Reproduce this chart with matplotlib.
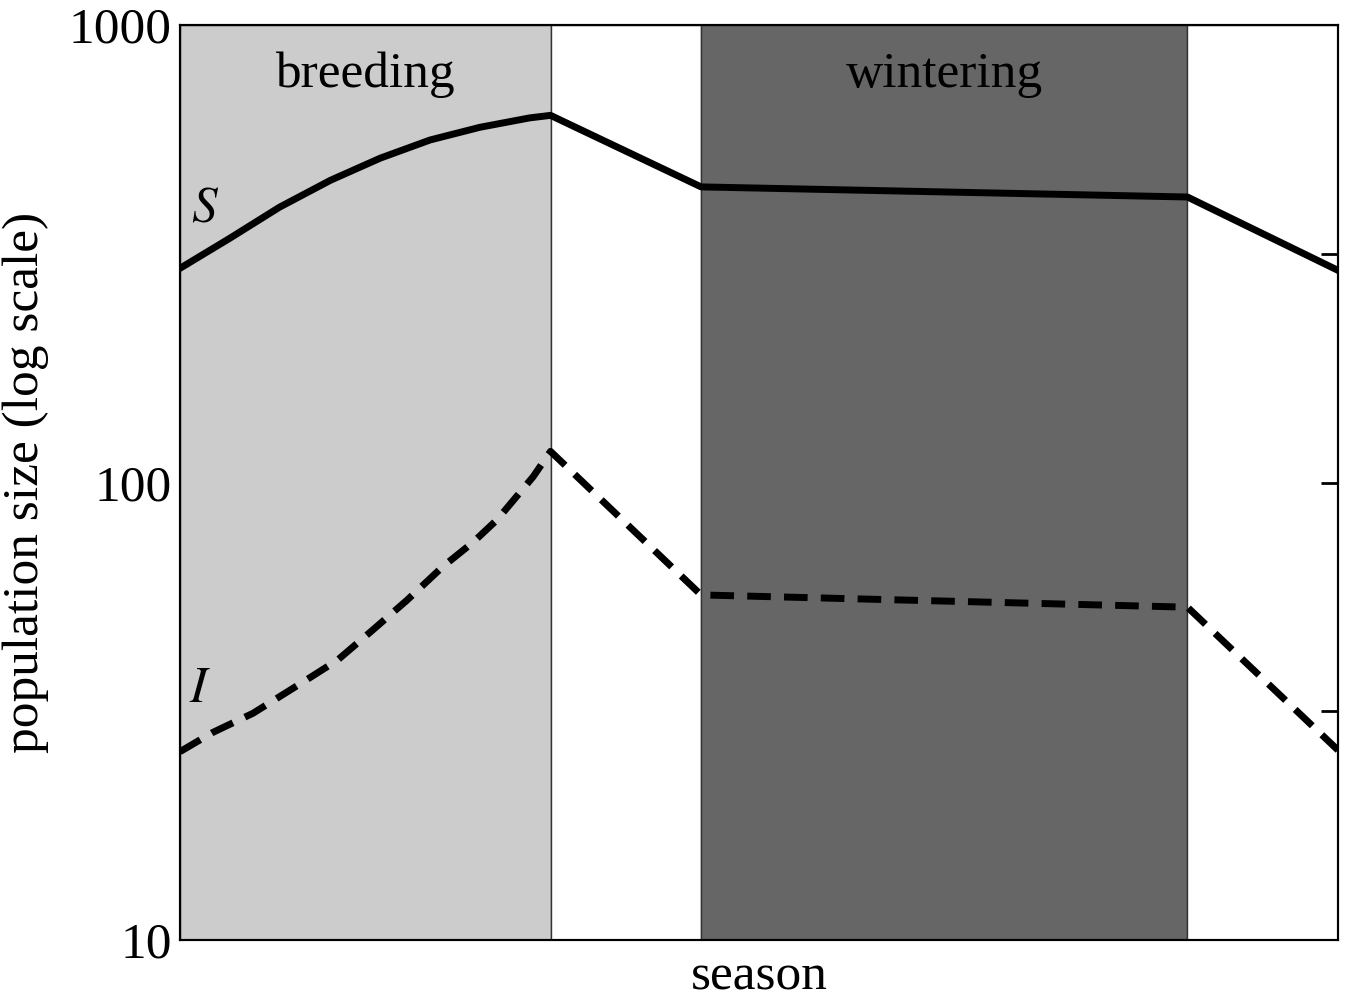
import matplotlib
matplotlib.use("Agg")
import matplotlib.pyplot as plt

plt.rcParams['font.family'] = ['Liberation Serif', 'DejaVu Serif']
plt.rcParams['mathtext.fontset'] = 'stix'

# season boundaries (fraction of the annual cycle)
season_edges = [0.0, 0.32, 0.45, 0.87, 1.0]
season_names = ['breeding', '', 'wintering', '']
season_colors = ['#cccccc', 'white', '#666666', 'white']

# susceptible population S
s_time = [0.0, 0.043, 0.086, 0.130, 0.173, 0.216, 0.259, 0.302, 0.32, 0.45, 0.87, 1.0]
s_size = [294, 342, 400, 458, 512, 561, 598, 627, 635, 443, 421, 291]

# infected population I
i_time = [0.0, 0.028, 0.063, 0.106, 0.136, 0.166, 0.196, 0.227, 0.253, 0.274, 0.305,
          0.32, 0.45, 0.87, 1.0]
i_size = [25.8, 28.4, 31.3, 36.6, 40.9, 47.5, 55.3, 65.5, 74.0, 83.0, 103.0,
          117.0, 56.8, 53.4, 26.0]

fig = plt.figure(figsize=(13.45, 10.02), dpi=100)
ax = fig.add_axes([0.1338, 0.0619, 0.861, 0.913])

for k in range(len(season_names)):
    ax.axvspan(season_edges[k], season_edges[k + 1], facecolor=season_colors[k],
               edgecolor='#333333', linewidth=1.0, zorder=0)
    if season_names[k]:
        ax.text((season_edges[k] + season_edges[k + 1]) / 2, 780, season_names[k],
                ha='center', va='center', fontsize=37)

ax.plot(s_time, s_size, color='black', linewidth=5, zorder=3)
line_i, = ax.plot(i_time, i_size, color='black', linewidth=5, zorder=3)
line_i.set_dashes((3.4, 1.9))

ax.text(0.0216, 395, '$S$', fontsize=37, ha='center', va='center')
ax.text(0.017, 35.2, '$I$', fontsize=37, ha='center', va='center')

ax.set_yscale('log')
ax.set_ylim(10, 1000)
ax.set_xlim(0, 1)
ax.set_xticks([])
ax.set_yticks([10, 100, 1000])
ax.set_yticklabels(['10', '100', '1000'], fontsize=37)
ax.minorticks_off()
ax.tick_params(axis='y', which='major', length=0, pad=6)

# inward ticks on the right side
ax_r = ax.twinx()
ax_r.set_yscale('log')
ax_r.set_ylim(10, 1000)
ax_r.set_yticks([10 ** 1.5, 100, 10 ** 2.5])
ax_r.set_yticklabels([])
ax_r.minorticks_off()
ax_r.tick_params(axis='y', direction='in', length=12, width=2)

for a in (ax, ax_r):
    for sp in a.spines.values():
        sp.set_linewidth(1.5)
        sp.set_color('black')

ax.set_xlabel('season', fontsize=37, labelpad=10)
ax.set_ylabel('population size (log scale)', fontsize=37, labelpad=14)

fig.savefig('out.png', dpi=100)
